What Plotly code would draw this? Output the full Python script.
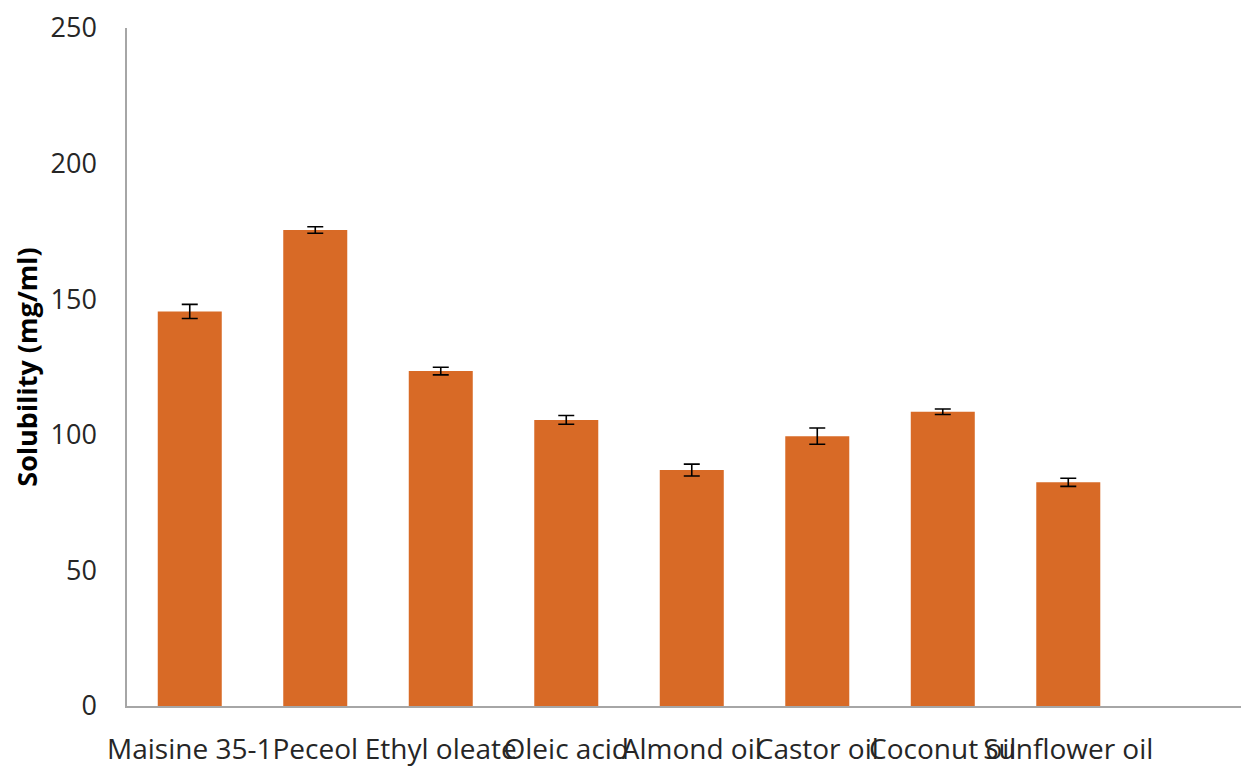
import plotly.graph_objects as go

categories = ["Maisine 35-1", "Peceol", "Ethyl oleate", "Oleic acid", "Almond oil",
              "Castor oil", "Coconut oil", "Sunflower oil"]
solubility = [145.5, 175.5, 123.5, 105.5, 87.0, 99.5, 108.5, 82.5]
errors = [2.6, 1.2, 1.4, 1.6, 2.2, 3.0, 1.0, 1.5]
y_ticks = [0, 50, 100, 150, 200, 250]

fig = go.Figure()
fig.add_trace(go.Bar(
    x=categories,
    y=solubility,
    width=0.51,
    marker=dict(color="#d86a26", line=dict(width=0)),
    error_y=dict(type="data", array=errors, visible=True,
                 color="black", thickness=1.6, width=8),
))

fig.update_layout(
    width=1241, height=759,
    margin=dict(l=119, r=0, t=20, b=57),
    paper_bgcolor="white", plot_bgcolor="white",
    showlegend=False,
    font=dict(family="Open Sans", color="#262626"),
)
fig.update_xaxes(
    range=[-0.5, 8.44],
    showline=True, linecolor="#a6a6a6", linewidth=1.5,
    showgrid=False, ticks="", tickangle=0,
    tickfont=dict(size=28, color="#262626"),
    ticklabelstandoff=18,
)
fig.update_yaxes(
    range=[0, 250], tickvals=y_ticks,
    showline=True, linecolor="#a6a6a6", linewidth=1.5,
    showgrid=False, ticks="", zeroline=False,
    tickfont=dict(size=27, color="#262626"),
    ticklabelstandoff=23,
    title=dict(text="<b>Solubility (mg/ml)</b>", font=dict(size=27, color="black"), standoff=15),
)

fig.write_html("out.html")
